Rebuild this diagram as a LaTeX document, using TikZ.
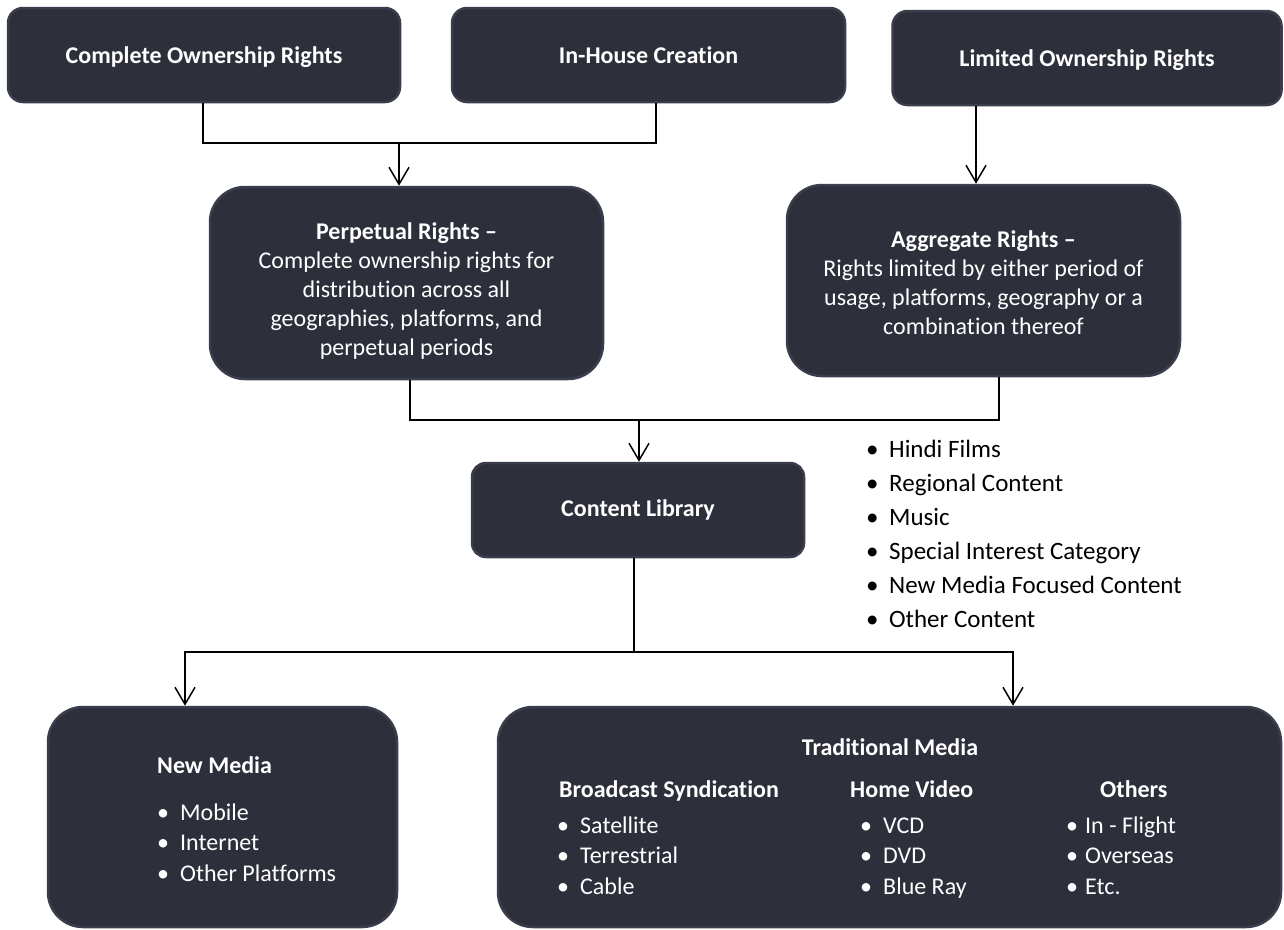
\documentclass[tikz,border=0pt]{standalone}
\usepackage{fontspec}
\setmainfont{Carlito}[RawFeature={-liga}]
\usetikzlibrary{arrows.meta}
\definecolor{boxfill}{HTML}{2D2F3B}
\definecolor{boxline}{HTML}{3A3D4C}
\newcommand{\bul}[1]{\makebox[23pt][l]{•}#1}
\newcommand{\bulx}[1]{\makebox[19pt][l]{•}#1}
\tikzset{
  box/.style={draw=boxline, line width=2.5pt, fill=boxfill, rounded corners=#1,
    text=white, align=center, inner sep=0pt},
  box/.default=15pt,
  toptext/.style={text height=18pt, text depth=2pt, font=\bfseries},
  txt/.style={anchor=base west, inner sep=0pt, text=white},
  lst/.style={anchor=base west, inner sep=0pt, text=white, font=\fontsize{24}{30.5}\selectfont},
  conn/.style={line width=1.5pt, black},
  arr/.style={conn, -{Straight Barb[length=17pt,width=20pt]}}
}
\begin{document}
\fontsize{24}{29}\selectfont
\begin{tikzpicture}[x=1pt, y=-1pt]
\useasboundingbox (0,0) rectangle (1284,929);
% top row
\node[box, toptext, minimum width=392pt, minimum height=94pt] (c1) at (204,55) {Complete Ownership Rights};
\node[box, toptext, minimum width=393pt, minimum height=94pt] (c2) at (648.5,55) {In-House Creation};
\node[box, toptext, minimum width=389pt, minimum height=94pt] (c3) at (1087,58) {Limited Ownership Rights};
% second row
\node[box=35pt, minimum width=393pt, minimum height=192pt] (perp) at (406.5,283)
  {\rule{0pt}{32pt}\textbf{Perpetual Rights –}\\Complete ownership rights for\\distribution across all\\geographies, platforms, and\\perpetual periods};
\node[box=35pt, minimum width=393pt, minimum height=191pt] (aggr) at (983.5,280.5)
  {\rule{0pt}{22pt}\textbf{Aggregate Rights –}\\Rights limited by either period of\\usage, platforms, geography or a\\combination thereof};
% library
\node[box=14pt, minimum width=332pt, minimum height=94pt, font=\bfseries] (lib) at (638,510) {Content Library};
\node[anchor=base west, inner sep=0pt, text=black, font=\fontsize{25}{34}\selectfont] (cont) at (866,457)
  {\begin{tabular}[t]{@{}l@{}}\bul{Hindi Films}\\\bul{Regional Content}\\\bul{Music}\\\bul{Special Interest Category}\\\bul{New Media Focused Content}\\\bul{Other Content}\end{tabular}};
% bottom boxes
\node[box=35pt, minimum width=349pt, minimum height=220pt] (nm) at (222.5,817) {};
\node[box=35pt, minimum width=783pt, minimum height=220pt] (tm) at (889.5,817) {};
\node[txt, font=\bfseries] (nmt) at (157,773) {New Media};
\node[lst] (nml) at (157,820)
  {\begin{tabular}[t]{@{}l@{}}\bul{Mobile}\\\bul{Internet}\\\bul{Other Platforms}\end{tabular}};
\node[anchor=base, inner sep=0pt, text=white, font=\bfseries] (tmt) at (890,755) {Traditional Media};
\node[txt, font=\bfseries] (bsh) at (559,797) {Broadcast Syndication};
\node[txt, font=\bfseries] (hvh) at (850,797) {Home Video};
\node[txt, font=\bfseries] (oth) at (1100,797) {Others};
\node[lst] (bsl) at (557,833)
  {\begin{tabular}[t]{@{}l@{}}\bul{Satellite}\\\bul{Terrestrial}\\\bul{Cable}\end{tabular}};
\node[lst] (hvl) at (860,833)
  {\begin{tabular}[t]{@{}l@{}}\bul{VCD}\\\bul{DVD}\\\bul{Blue Ray}\end{tabular}};
\node[lst] (otl) at (1066,833)
  {\begin{tabular}[t]{@{}l@{}}\bulx{In - Flight}\\\bulx{Overseas}\\\bulx{Etc.}\end{tabular}};
% connectors
\coordinate (j1l) at (203,143);
\coordinate (j1r) at (656,143);
\coordinate (j1) at (399,143);
\draw[conn] (j1l |- c1.south) -- (j1l) -- (j1r) -- (j1r |- c2.south);
\draw[arr] (j1) -- (j1 |- perp.north);
\coordinate (a2) at (976,0);
\draw[arr] (c3.south -| a2) -- (aggr.north -| a2);
\coordinate (j2l) at (410,420);
\coordinate (j2r) at (999,420);
\coordinate (j2) at (639,420);
\draw[conn] (j2l |- perp.south) -- (j2l) -- (j2r) -- (j2r |- aggr.south);
\draw[arr] (j2) -- (j2 |- lib.north);
\coordinate (j3) at (634,652);
\coordinate (j3l) at (185,652);
\coordinate (j3r) at (1013,652);
\draw[conn] (j3 |- lib.south) -- (j3);
\draw[arr] (j3) -- (j3l) -- (j3l |- nm.north);
\draw[arr] (j3) -- (j3r) -- (j3r |- tm.north);
\end{tikzpicture}
\end{document}
